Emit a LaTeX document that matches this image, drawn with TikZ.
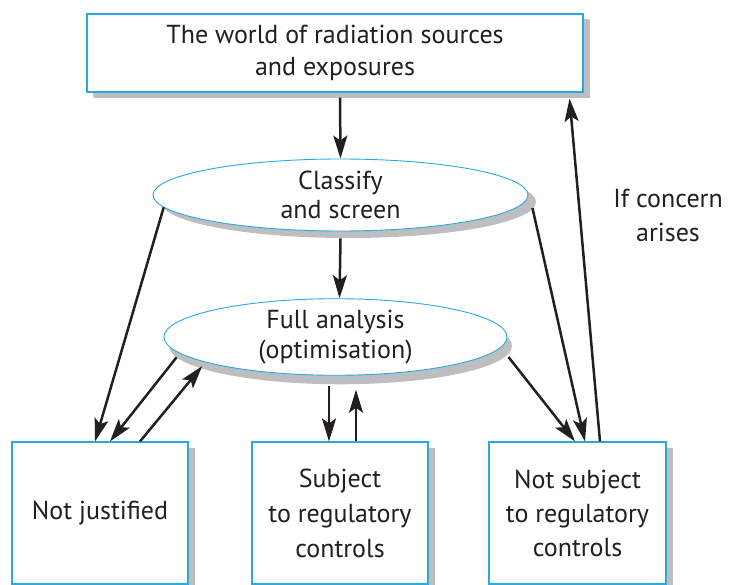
\documentclass[tikz,border=0pt]{standalone}
\usepackage{fontspec}
\setmainfont{PT Sans}
\usetikzlibrary{shapes.geometric,shadows,arrows.meta}

\definecolor{inkc}{HTML}{231F20}
\definecolor{edgeblue}{HTML}{29A9E1}
\definecolor{shgrey}{HTML}{BCBEC0}

\tikzset{
  lbl/.style={text=inkc, align=center, font=\fontsize{26}{32}\selectfont},
  boxnode/.style={lbl, draw=edgeblue, line width=1.1pt, fill=white,
    rectangle, inner sep=0pt,
    general shadow={fill=shgrey, shadow xshift=7pt, shadow yshift=-6pt}},
  ovalnode/.style={lbl, draw=edgeblue, line width=0.9pt, fill=white,
    ellipse, inner sep=0pt},
  arr/.style={draw=inkc, line width=2.5pt,
    -{Stealth[length=23pt, width=14pt, inset=5pt]}},
}

\begin{document}
\begin{tikzpicture}[x=1pt, y=-1pt]
\useasboundingbox (0,0) rectangle (730,585);
\clip (0,0) rectangle (730,585);

% source box
\node[boxnode, minimum width=496pt, minimum height=78pt,
      general shadow={fill=shgrey, shadow xshift=6pt, shadow yshift=-5pt}]
  (top) at (335,53) {The world of radiation sources\\and exposures};

% screening and analysis stages
\node[ovalnode, minimum width=375pt, minimum height=72pt,
      font=\fontsize{26}{29}\selectfont,
      general shadow={fill=shgrey, shadow xshift=8pt, shadow yshift=-7pt}]
  (cls) at (340.5,195) {Classify\\and screen};
\node[ovalnode, minimum width=343pt, minimum height=72pt,
      font=\fontsize{26}{30}\selectfont,
      general shadow={fill=shgrey, shadow xshift=5pt, shadow yshift=-9pt}]
  (fa) at (335.5,337) {Full analysis\\(optimisation)};

% outcome boxes (they run past the lower edge)
\node[boxnode, minimum width=176pt, minimum height=142pt,
      font=\fontsize{26}{35}\selectfont]
  (nj) at (100,513) {Not justified};
\node[boxnode, minimum width=176pt, minimum height=142pt,
      font=\fontsize{26}{35}\selectfont]
  (subj) at (340,513) {Subject\\to regulatory\\controls};
\node[boxnode, minimum width=177pt, minimum height=142pt,
      font=\fontsize{26}{34}\selectfont]
  (ns) at (577.5,513) {Not subject\\to regulatory\\controls};

% side note
\node[lbl, font=\fontsize{26}{34}\selectfont] (note) at (668,215)
  {If concern\\arises};

% connectors
\draw[arr] ([xshift=5pt,yshift=-5pt]top.south) -- (cls.north);
\draw[arr] ([yshift=-7pt]cls.south) -- ([xshift=4pt]fa.north);
\draw[arr] (cls.184) -- ([xshift=-5pt]nj.north);
\draw[arr, shorten <=5pt] (fa.186) -- ([xshift=10pt]nj.north);
\draw[arr, shorten >=5pt] ([xshift=40pt]nj.north) -- (fa.191);
\draw[arr] ([xshift=-6.5pt,yshift=-10pt]fa.south) -- ([xshift=-11pt]subj.north);
\draw[arr] ([xshift=16pt]subj.north) -- ([xshift=20.5pt,yshift=-14pt]fa.south);
\draw[arr] ([xshift=1pt,yshift=-20pt]fa.east) -- ([xshift=-2.5pt]ns.north);
\draw[arr] ([xshift=4pt,yshift=-13pt]cls.east) -- ([xshift=7.5pt]ns.north);
\draw[arr] ([xshift=22.5pt]ns.north) -- ([xshift=-14pt,yshift=-6pt]top.south east);
\end{tikzpicture}
\end{document}
